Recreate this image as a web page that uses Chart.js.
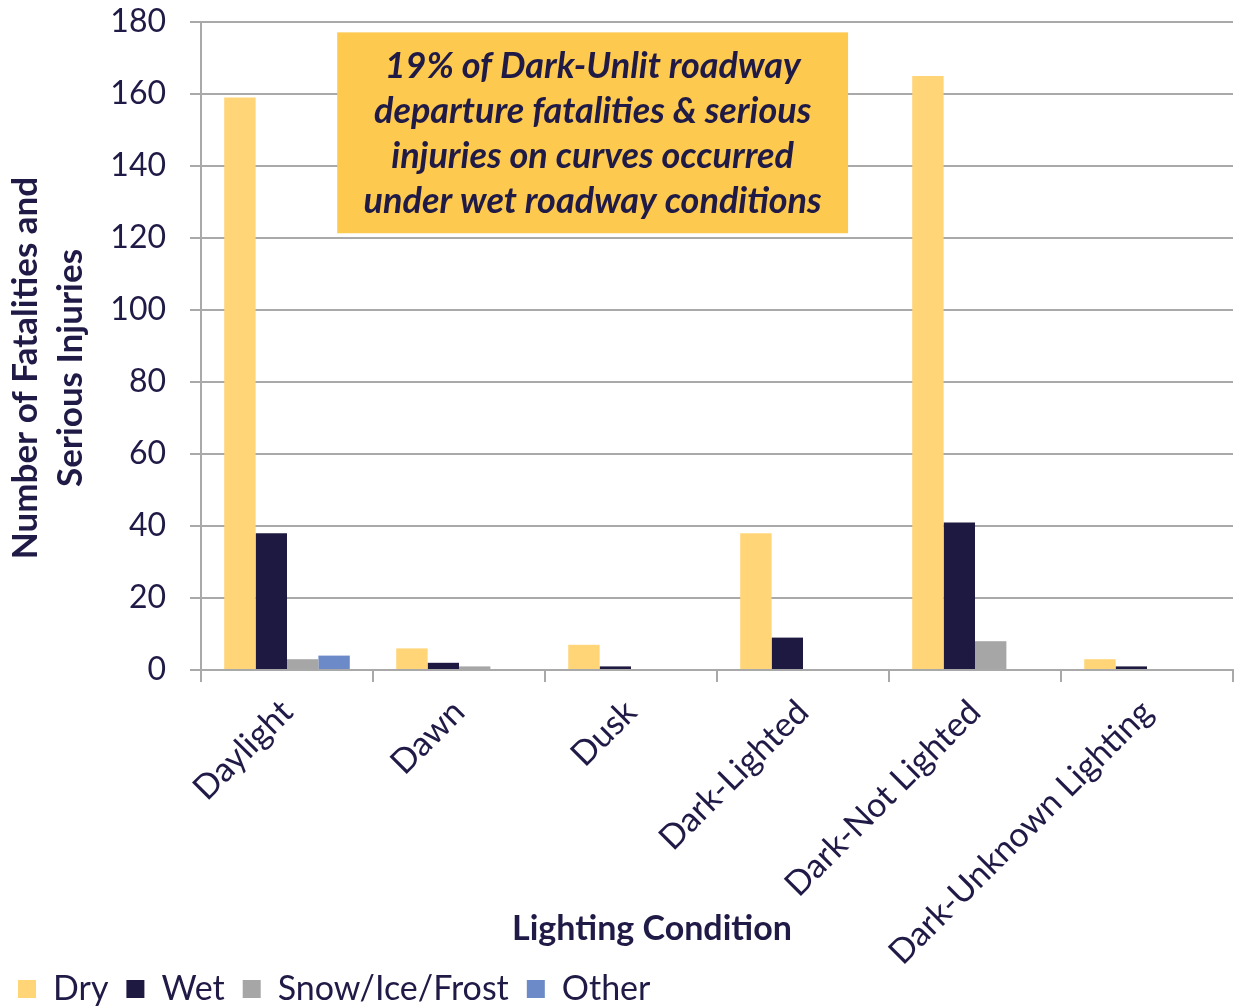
<!DOCTYPE html>
<html>
<head>
<meta charset="utf-8">
<script src="https://cdn.jsdelivr.net/npm/chart.js@4"></script>
<style>
  html, body { margin: 0; padding: 0; background: #fff; }
  #wrap { width: 1235px; height: 1006px; }
</style>
</head>
<body>
<div id="wrap"><canvas id="chart" width="1235" height="1006"></canvas></div>
<script>
// lighting conditions on the x axis
const categories = ['Daylight', 'Dawn', 'Dusk', 'Dark-Lighted', 'Dark-Not Lighted', 'Dark-Unknown Lighting'];

// roadway surface series
const dryValues = [159, 6, 7, 38, 165, 3];
const wetValues = [38, 2, 1, 9, 41, 1];
const snowValues = [3, 1, 0, 0, 8, 0];
const otherValues = [4, 0, 0, 0, 0, 0];

const yTicks = [0, 20, 40, 60, 80, 100, 120, 140, 160, 180];

const yTitleLines = ['Number of Fatalities and', 'Serious Injuries'];
const xTitle = 'Lighting Condition';

const calloutLines = [
  '19% of Dark-Unlit roadway',
  'departure fatalities & serious',
  'injuries on curves occurred',
  'under wet roadway conditions'
];

const textColor = '#1F1A46';
const gridColor = '#A9A9A9';
const fontFamily = "Lato, 'Open Sans', sans-serif";

// yellow callout box + axis titles drawn on top of the chart
const calloutPlugin = {
  id: 'callout',
  beforeDraw(chart) {
    // let the long rotated labels run past the bottom of the x scale box
    chart.scales.x._computeLabelArea = () => undefined;
  },
  afterDraw(chart) {
    const { ctx, chartArea: a } = chart;
    const w = a.right - a.left, h = a.bottom - a.top;
    const x0 = a.left + w * 0.132, x1 = a.left + w * 0.627;
    const y0 = a.top + h * 0.016, y1 = a.top + h * 0.326;
    ctx.save();
    ctx.fillStyle = '#FDC94F';
    ctx.fillRect(x0, y0, x1 - x0, y1 - y0);
    ctx.fillStyle = textColor;
    ctx.font = 'italic bold 36px ' + fontFamily;
    ctx.textAlign = 'center';
    ctx.textBaseline = 'middle';
    const cx = (x0 + x1) / 2;
    calloutLines.forEach((line, i) => {
      ctx.fillText(line, cx, y0 + 34 + i * 45);
    });
    // x axis title
    ctx.font = 'bold 34px ' + fontFamily;
    ctx.fillText(xTitle, a.left + w * 0.437, a.bottom + 259);
    // y axis title
    ctx.font = 'bold 35px ' + fontFamily;
    ctx.translate(26, a.top + h / 2 + 22);
    ctx.rotate(-Math.PI / 2);
    yTitleLines.forEach((line, i) => {
      ctx.fillText(line, 0, i * 45);
    });
    ctx.restore();
  }
};

const ctx = document.getElementById('chart').getContext('2d');
new Chart(ctx, {
  type: 'bar',
  data: {
    labels: categories,
    datasets: [
      { label: 'Dry', data: dryValues, backgroundColor: '#FFD577' },
      { label: 'Wet', data: wetValues, backgroundColor: '#1E1941' },
      { label: 'Snow/Ice/Frost', data: snowValues, backgroundColor: '#A6A6A6' },
      { label: 'Other', data: otherValues, backgroundColor: '#6B8AC7' }
    ]
  },
  options: {
    responsive: false,
    animation: false,
    layout: { padding: { top: 22, right: 2, left: 0, bottom: -10 } },
    datasets: {
      bar: { categoryPercentage: 0.73, barPercentage: 1.0, borderWidth: 0 }
    },
    plugins: {
      legend: {
        position: 'bottom',
        align: 'start',
        labels: {
          color: textColor,
          font: { family: fontFamily, size: 34 },
          boxWidth: 18,
          boxHeight: 18,
          padding: 18
        }
      },
      tooltip: { enabled: false }
    },
    scales: {
      x: {
        afterFit: (scale) => { scale.height = 284; },
        grid: {
          drawOnChartArea: false,
          drawTicks: true,
          tickLength: 12,
          color: gridColor,
          lineWidth: 2
        },
        border: { color: gridColor, width: 2 },
        ticks: {
          color: textColor,
          font: { family: fontFamily, size: 34 },
          maxRotation: 45,
          minRotation: 45,
          padding: 10,
          autoSkip: false
        }
      },
      y: {
        min: 0,
        max: 180,
        afterFit: (scale) => {
          scale.width = 201;
          scale.paddingTop = 0;
          scale.paddingBottom = 0;
        },
        afterBuildTicks: (scale) => { scale.ticks = yTicks.map(v => ({ value: v })); },
        grid: { color: gridColor, lineWidth: 2, tickLength: 11 },
        border: { color: gridColor, width: 2 },
        ticks: {
          color: textColor,
          font: { family: fontFamily, size: 32 },
          padding: 24
        }
      }
    }
  },
  plugins: [calloutPlugin]
});
</script>
</body>
</html>
